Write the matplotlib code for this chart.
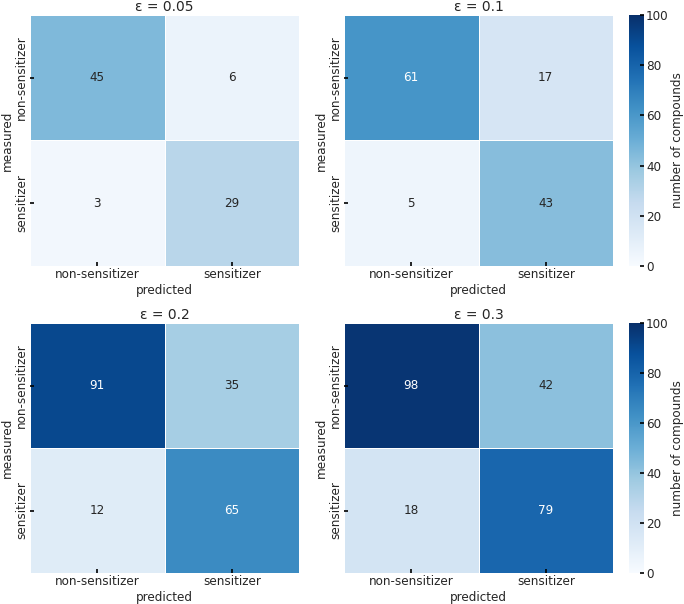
import matplotlib
matplotlib.use("Agg")
import matplotlib.pyplot as plt
import seaborn as sns
import numpy as np

epsilons = ["0.05", "0.1", "0.2", "0.3"]
labels = ["non-sensitizer", "sensitizer"]
cm_005 = [[45, 6], [3, 29]]
cm_01 = [[61, 17], [5, 43]]
cm_02 = [[91, 35], [12, 65]]
cm_03 = [[98, 42], [18, 79]]
matrices = [cm_005, cm_01, cm_02, cm_03]

sns.set_style("white")
plt.rcParams['font.family'] = ['DejaVu Sans']
plt.rcParams['text.color'] = '#262626'
plt.rcParams['axes.labelcolor'] = '#262626'
plt.rcParams['xtick.color'] = '#262626'
plt.rcParams['ytick.color'] = '#262626'

fs = 8.64
W, H = 684, 604
fig = plt.figure(figsize=(W/100, H/100), dpi=100)

def px(x0, y0, x1, y1):
    return [x0/W, 1 - y1/H, (x1-x0)/W, (y1-y0)/H]

rows = [(15, 266), (323, 573)]
cols = [(30, 299), (344, 613)]
cbar_x = (629, 644)

k = 0
for r, (y0, y1) in enumerate(rows):
    for c, (x0, x1) in enumerate(cols):
        ax = fig.add_axes(px(x0, y0, x1, y1))
        data = np.array(matrices[k])
        kw = dict(cmap='Blues', vmin=0, vmax=100, annot=True, fmt='d',
                  linewidths=0.5, linecolor='white',
                  xticklabels=labels, yticklabels=labels,
                  annot_kws={'fontsize': fs}, square=False)
        if c == 1:
            cax = fig.add_axes(px(cbar_x[0], y0, cbar_x[1], y1))
            sns.heatmap(data, ax=ax, cbar=True, cbar_ax=cax, **kw)
            cax.set_axisbelow(False)
            cax.set_ylabel('number of compounds', fontsize=fs, labelpad=2)
            cax.set_yticks([0, 20, 40, 60, 80, 100])
            cax.tick_params(axis='y', right=True, labelsize=fs, length=3, width=1.2,
                            color='black', direction='in', pad=1.5)
        else:
            sns.heatmap(data, ax=ax, cbar=False, **kw)
        ax.set_axisbelow(False)
        ax.set_title(f"ε = {epsilons[k]}", fontsize=10, pad=3)
        ax.set_xlabel('predicted', fontsize=fs, labelpad=2)
        ax.set_ylabel('measured', fontsize=fs, labelpad=1)
        ax.tick_params(axis='x', bottom=True, labelsize=fs, length=3, width=1.2,
                       color='black', direction='in', pad=1.5)
        ax.tick_params(axis='y', left=True, labelsize=fs, length=3, width=1.2,
                       color='black', direction='in', pad=1.5)
        ax.set_yticklabels(labels, rotation=90, va='center')
        ax.set_xticklabels(labels, rotation=0)
        k += 1

fig.savefig('out.png', dpi=100)
